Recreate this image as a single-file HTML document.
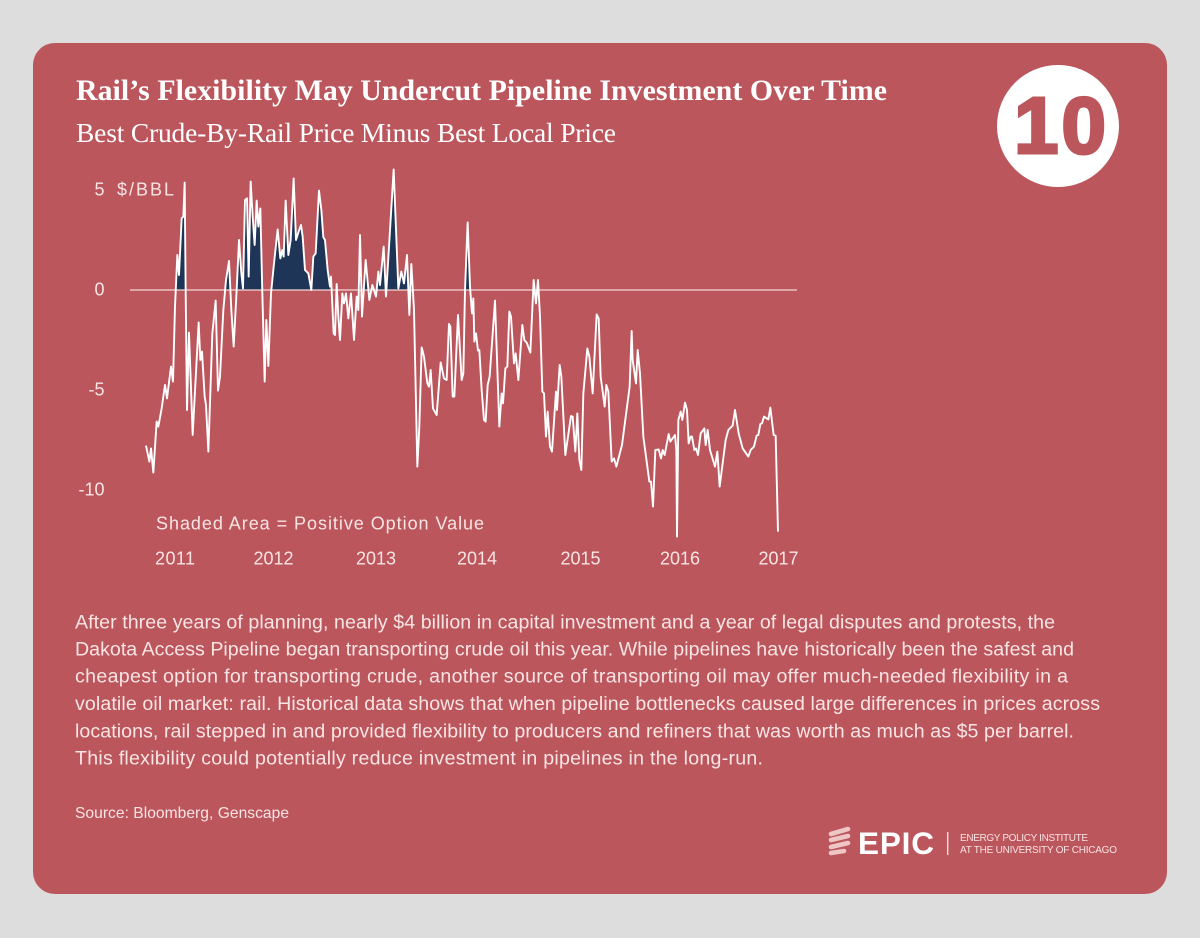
<!DOCTYPE html>
<html lang="en">
<head>
<meta charset="utf-8">
<title>Rail's Flexibility May Undercut Pipeline Investment Over Time</title>
<style>
html,body{margin:0;padding:0;background:#dddddd;}
body{width:1200px;height:938px;overflow:hidden;}
svg{display:block;}
text{font-family:"Liberation Sans",sans-serif;fill:#ffffff;}
.serif{font-family:"Liberation Serif",serif;}
.body-line{font-size:19.6px;fill:#f9e4e4;}
.tick{font-size:18px;fill:#f9e4e4;}
</style>
</head>
<body>
<svg id="root" width="1200" height="938" viewBox="0 0 1200 938" xmlns="http://www.w3.org/2000/svg">
  <rect x="33" y="43" width="1134" height="851" rx="22" ry="22" fill="#bb565d"/>
  <text class="serif" x="76" y="100" font-size="29.8" font-weight="700" textLength="811" lengthAdjust="spacing">Rail’s Flexibility May Undercut Pipeline Investment Over Time</text>
  <text class="serif" x="76" y="142" font-size="27.5" textLength="540" lengthAdjust="spacing">Best Crude-By-Rail Price Minus Best Local Price</text>
  <g>
    <circle cx="1058" cy="126" r="61" fill="#ffffff"/>
    <text x="1014" y="153" font-size="80" font-weight="700" textLength="92" lengthAdjust="spacing" style="fill:#bb565d;stroke:#bb565d;stroke-width:3px">10</text>
  </g>
  <g id="chart"></g>
  <text class="tick" x="117" y="195.5" textLength="57" lengthAdjust="spacing">$/BBL</text>
  <text class="tick" x="156" y="529.5" textLength="328" lengthAdjust="spacing">Shaded Area = Positive Option Value</text>
  <g>
    <text class="body-line" x="75" y="628.5" textLength="980" lengthAdjust="spacing">After three years of planning, nearly $4 billion in capital investment and a year of legal disputes and protests, the</text>
    <text class="body-line" x="75" y="655.5" textLength="999" lengthAdjust="spacing">Dakota Access Pipeline began transporting crude oil this year. While pipelines have historically been the safest and</text>
    <text class="body-line" x="75" y="682.5" textLength="993" lengthAdjust="spacing">cheapest option for transporting crude, another source of transporting oil may offer much-needed flexibility in a</text>
    <text class="body-line" x="75" y="710" textLength="1025" lengthAdjust="spacing">volatile oil market: rail. Historical data shows that when pipeline bottlenecks caused large differences in prices across</text>
    <text class="body-line" x="75" y="737.5" textLength="999" lengthAdjust="spacing">locations, rail stepped in and provided flexibility to producers and refiners that was worth as much as $5 per barrel.</text>
    <text class="body-line" x="75" y="764.5" textLength="688" lengthAdjust="spacing">This flexibility could potentially reduce investment in pipelines in the long-run.</text>
  </g>
  <text x="75" y="818" font-size="15.6" textLength="214" lengthAdjust="spacing" style="fill:#f9e4e4">Source: Bloomberg, Genscape</text>
  <g>
    <g fill="none" stroke="#eec6c6" stroke-width="4.6" stroke-linecap="round">
      <line x1="831" y1="834" x2="848" y2="829"/>
      <line x1="831" y1="840" x2="848" y2="836"/>
      <line x1="831" y1="847" x2="848" y2="843"/>
      <line x1="831" y1="853" x2="844" y2="851"/>
    </g>
    <text x="858" y="854" font-size="31.5" font-weight="700" textLength="76" lengthAdjust="spacing">EPIC</text>
    <rect x="947" y="832" width="1.4" height="23" fill="#f6dcdc"/>
    <text x="960" y="841" font-size="10" textLength="128" lengthAdjust="spacing" style="fill:#f8e2e2">ENERGY POLICY INSTITUTE</text>
    <text x="960" y="853" font-size="10" textLength="157" lengthAdjust="spacing" style="fill:#f8e2e2">AT THE UNIVERSITY OF CHICAGO</text>
  </g>
</svg>
<script>
// Week number since the start of the series
const weeks = [0,1.67,2.5,3.67,5.33,6.17,7.83,9.5,10.5,12.5,13.5,14.5,15.67,16.5,17.83,18.67,19.33,19.83,20.5,21.5,23.33,26.33,27.17,28,29.33,30,31.17,33.17,34.83,36,37,38.67,40,41.5,42.67,43.83,45.33,46.5,47.67,48.5,49.5,50.5,51.33,52.33,53.33,54.33,55.33,56.17,57.17,58.17,59.33,60.17,61.17,62.5,64,65.83,67.17,68.17,68.83,69.83,71.17,72.33,73.83,75,76.33,77.5,78.33,79.5,81.17,82.67,83.67,84.83,86.5,87.67,88.67,89.5,90.83,92,92.5,93.83,94.5,95.33,96.17,97,98.17,99,100,101.17,102.5,104,105.33,106.17,107,108,109.83,111.67,113.17,115,116.17,117,118.83,120,123.83,126.17,127.67,129,130.5,131.67,132.67,134,135.67,136.67,137.83,139,140.67,141.5,142.33,143.5,145.33,147.33,149,150.33,151.5,152.17,153.33,154.17,156,157.83,158.67,159.5,160.83,162,163,163.67,164.17,165,166,166.67,167.83,169,169.83,170.83,171.83,174.5,176.67,177.83,178.5,179.67,180.67,181.67,182.5,184,184.83,186.17,188.17,189.17,190.33,192.17,193.83,195,196,197,198.17,199,200,200.83,202,203,205,205.5,206.83,207.67,209.67,212.5,213.33,214.67,215.67,216.67,217.67,218.67,220.67,221.67,223.33,225.33,226.33,227.33,229.33,230.17,231.17,232.83,234,235.17,238,241.83,242.83,243.33,245,245.83,247,248.67,251.67,252.5,253.5,254.67,256.33,257.5,258.33,259.33,261.33,262.17,264.5,265.17,265.5,266.17,267.33,268.17,269.5,270.5,271.33,272.33,273,274.17,275,276,277.33,279.17,279.83,280.83,282,284.5,285.67,286.83,288.33,289.83,291.17,293.33,294.5,296.33,298.33,301.17,302.33,304,305.33,306.17,307.17,308,309,311.17,312.17,313.83,314.83,316];
// Best crude-by-rail price minus best local price, $/bbl
const spread = [-7.78,-8.58,-7.92,-9.13,-6.58,-6.83,-5.92,-4.75,-5.42,-3.83,-4.58,-0.83,1.75,0.75,3.58,3.67,5.37,0,-6,-2.13,-7.25,-1.62,-3.5,-3.08,-5.33,-5.75,-8.08,-2.17,-0.53,-5.03,-4.33,-1,0.5,1.45,-1,-2.83,0,2.5,0.83,0.08,4.5,4.58,0.67,5.42,3.67,2.25,4.47,3.17,4.08,-0.17,-4.58,-1.5,-3.8,-0.17,1.33,3.03,1.58,2,1.67,4.47,1.75,2.5,5.58,2.5,2.92,3.25,2.67,1,0.83,0,1.67,1.83,4.97,4,2.63,2.5,1,0.17,0.67,-2.17,-2.25,0.3,-1.33,-2.5,-0.17,-0.67,-0.17,-1.42,-0.17,-2.5,-0.33,-1,2.75,-1.33,1.5,-0.5,0.25,-0.33,0.92,0.25,2.17,-0.33,6.03,0.08,0.92,0.33,1.75,-1.25,1.3,-1,-8.83,-6.83,-2.87,-3.33,-4.67,-4.83,-4,-5.92,-6.25,-3.62,-4.42,-4.5,-1.7,-1.83,-5.33,-5.33,-1.25,-4.5,-4.17,0,3.38,0.17,-1.17,-0.42,-2.58,-2.17,-3.03,-3,-5,-6.5,-6.58,-4.75,-4.33,-0.53,-6.83,-5.17,-5.67,-3.92,-3.83,-1.08,-1.33,-3.67,-3.17,-4.5,-1.75,-2.5,-2.63,-3.13,0.5,-0.67,0.5,-1.33,-5.08,-5.17,-7.33,-6.08,-7.83,-8.08,-5.08,-6,-3.75,-4.33,-8.25,-6.3,-6.33,-8.08,-6.17,-8.5,-9,-5.17,-2.92,-3.33,-5.17,-1.22,-1.42,-4.33,-5.83,-4.75,-5.08,-8.58,-8.42,-8.83,-7.75,-4.83,-2.05,-3.5,-4.67,-3,-4.17,-7.33,-9.58,-9.58,-10.83,-8,-7.97,-8.42,-8,-8.25,-7.2,-7.58,-7.25,-8,-12.33,-6.5,-6.08,-6.5,-5.63,-6,-7.67,-7.33,-7.33,-8,-7.92,-8.25,-7.17,-6.92,-7.75,-7,-8,-8.83,-8.08,-9.83,-8.67,-7.5,-7,-6.78,-6,-7.17,-7.92,-8.33,-8,-7.83,-7.28,-7.25,-6.7,-6.67,-6.33,-6.47,-5.88,-7.25,-7.28,-12.08];
const yTicks = [5,0,-5,-10];
const yearLabels = ["2011","2012","2013","2014","2015","2016","2017"];
const yearWeeks = [14.5,63.75,115,165.5,217.25,267,316.25];

const xScale = function(w){ return 146 + 2 * w; };
const yScale = function(v){ return 290 - 20 * v; };
const NS = "http://www.w3.org/2000/svg";
const chart = document.getElementById("chart");

function mk(tag, attrs, parent){
  const el = document.createElementNS(NS, tag);
  Object.keys(attrs).forEach(function(k){ el.setAttribute(k, attrs[k]); });
  parent.appendChild(el);
  return el;
}

const linePts = weeks.map(function(w,i){ return xScale(w).toFixed(2) + "," + yScale(spread[i]).toFixed(2); });

// clip so only values above zero are shaded
const defs = mk("defs", {}, chart);
const clip = mk("clipPath", {id:"above-zero"}, defs);
mk("rect", {x:xScale(weeks[0]), y:0, width:xScale(weeks[weeks.length-1])-xScale(weeks[0]), height:yScale(0)}, clip);

const areaD = "M" + xScale(weeks[0]).toFixed(2) + "," + yScale(0) + " L" + linePts.join(" L") + " L" + xScale(weeks[weeks.length-1]).toFixed(2) + "," + yScale(0) + " Z";
const area = mk("path", {d:areaD, fill:"#1f3557", "clip-path":"url(#above-zero)"}, chart);



const zero = mk("line", {x1:130, x2:797, y1:yScale(0), y2:yScale(0), stroke:"#f3d6d6", "stroke-width":1.3}, chart);



const line = mk("polyline", {points:linePts.join(" "), fill:"none", stroke:"#ffffff", "stroke-width":1.9, "stroke-linejoin":"round"}, chart);



yTicks.forEach(function(t){
  const label = mk("text", {x:104.5, y:yScale(t)+5.5, "text-anchor":"end", "class":"tick"}, chart);
  label.textContent = String(t);
  
  
});

yearLabels.forEach(function(yr,i){
  const label = mk("text", {x:xScale(yearWeeks[i]), y:564.5, "text-anchor":"middle", "class":"tick", textLength:40, lengthAdjust:"spacing"}, chart);
  label.textContent = yr;
  
  
});
</script>
</body>
</html>
